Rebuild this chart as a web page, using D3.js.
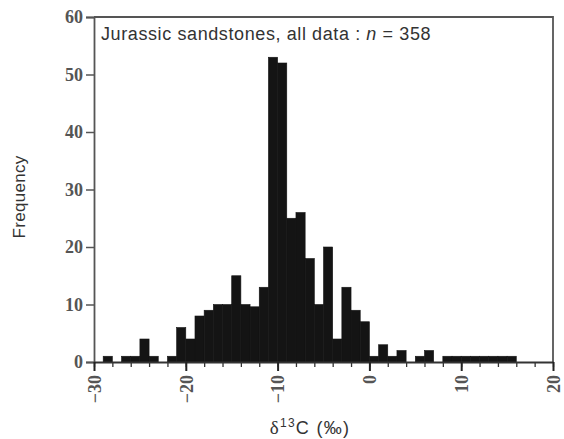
<!DOCTYPE html>
<html>
<head>
<meta charset="utf-8">
<script src="https://cdn.jsdelivr.net/npm/d3@7"></script>
<style>
  body { margin: 0; background: #fff; }
</style>
</head>
<body>
<div id="chart"></div>
<script>
// one-permil bins, left edge of each bin
const binStarts = [-30, -29, -28, -27, -26, -25, -24, -23, -22, -21, -20, -19, -18, -17, -16,
  -15, -14, -13, -12, -11, -10, -9, -8, -7, -6, -5, -4, -3, -2, -1,
  0, 1, 2, 3, 4, 5, 6, 7, 8, 9, 10, 11, 12, 13, 14, 15];
const counts = [0, 1, 0, 1, 1, 4, 1, 0, 1, 6, 4, 8, 9, 10, 10,
  15, 10, 9.6, 13, 53, 52, 25, 26, 18, 10, 20, 4, 13, 9, 7,
  1, 3, 1, 2, 0, 1, 2, 0, 1, 1, 1, 1, 1, 1, 1, 1];
const binWidth = 1;
const xTicks = [-30, -20, -10, 0, 10, 20];
const xMinorTicks = d3.range(-30, 21, 2);
const yTicks = [0, 10, 20, 30, 40, 50, 60];

const width = 564;
const height = 439;
const margin = { top: 17, right: 11, bottom: 77, left: 94 };
const sans = '"Liberation Sans", Arial, sans-serif';
const serif = '"Liberation Serif", "Times New Roman", serif';

const svg = d3.select('#chart')
  .append('svg')
  .attr('width', width)
  .attr('height', height)
  .style('font-family', sans);

const x = d3.scaleLinear().domain([-30, 20]).range([margin.left, width - margin.right]);
const y = d3.scaleLinear().domain([0, 60]).range([height - margin.bottom, margin.top]);

const bins = binStarts.map((b, i) => ({ x0: b, x1: b + binWidth, n: counts[i] }));

// bars
svg.append('g')
  .selectAll('rect')
  .data(bins.filter(d => d.n > 0))
  .join('rect')
  .attr('x', d => x(d.x0))
  .attr('width', d => x(d.x1) - x(d.x0))
  .attr('y', d => y(d.n))
  .attr('height', d => y(0) - y(d.n))
  .attr('fill', '#141414')
  .attr('stroke', '#141414')
  .attr('stroke-width', 0.6);

// frame (top + right)
const frameColor = '#555';
svg.append('path')
  .attr('d', `M${x(-30)},${y(60)}H${x(20)}V${y(0)}`)
  .attr('fill', 'none')
  .attr('stroke', frameColor)
  .attr('stroke-width', 1.8);

// y axis
const yAxis = svg.append('g')
  .attr('transform', `translate(${margin.left},0)`)
  .call(d3.axisLeft(y).tickValues(yTicks).tickSize(8).tickPadding(3));
yAxis.select('.domain').attr('stroke', frameColor).attr('stroke-width', 1.8);
yAxis.selectAll('.tick line').attr('stroke', frameColor).attr('stroke-width', 1.5);
yAxis.selectAll('.tick text')
  .style('font-family', serif)
  .style('font-size', '18px')
  .style('font-weight', 'bold')
  .attr('fill', '#555');

// x axis: minor ticks
const xMinor = svg.append('g')
  .attr('transform', `translate(0,${y(0)})`)
  .call(d3.axisBottom(x).tickValues(xMinorTicks).tickSize(5).tickFormat(''));
xMinor.select('.domain').remove();
xMinor.selectAll('.tick line').attr('stroke', '#333').attr('stroke-width', 1.3);

// x axis: major ticks and labels
const xAxis = svg.append('g')
  .attr('transform', `translate(0,${y(0)})`)
  .call(d3.axisBottom(x).tickValues(xTicks).tickSize(9).tickSizeOuter(0));
xAxis.select('.domain').attr('stroke', '#333').attr('stroke-width', 1.8);
xAxis.selectAll('.tick line').attr('stroke', '#222').attr('stroke-width', 2);
xAxis.selectAll('.tick text')
  .style('font-family', serif)
  .style('font-size', '18px')
  .style('font-weight', 'bold')
  .attr('fill', '#555')
  .attr('text-anchor', 'end')
  .attr('transform', 'rotate(-90)')
  .attr('x', -13)
  .attr('y', 0)
  .attr('dy', '0.35em');

// title inside plot
const title = svg.append('text')
  .attr('x', 101)
  .attr('y', 40)
  .style('font-size', '18px')
  .style('letter-spacing', '0.6px')
  .attr('fill', '#333');
title.append('tspan').text('Jurassic sandstones, all data : ');
title.append('tspan').style('font-style', 'italic').text('n');
title.append('tspan').text(' = 358');

// y axis title
svg.append('text')
  .attr('transform', `translate(25,197) rotate(-90)`)
  .attr('text-anchor', 'middle')
  .style('font-size', '17px')
  .style('letter-spacing', '0.3px')
  .attr('fill', '#333')
  .text('Frequency');

// x axis title
const xt = svg.append('text')
  .attr('x', 310)
  .attr('y', 434)
  .attr('text-anchor', 'middle')
  .style('font-size', '18px')
  .style('letter-spacing', '1.3px')
  .attr('fill', '#333');
xt.append('tspan').style('font-family', serif).style('font-size', '19px').text('δ');
xt.append('tspan').style('font-size', '12px').attr('dy', -7).text('13');
xt.append('tspan').attr('dy', 7).text('C (‰)');
</script>
</body>
</html>
